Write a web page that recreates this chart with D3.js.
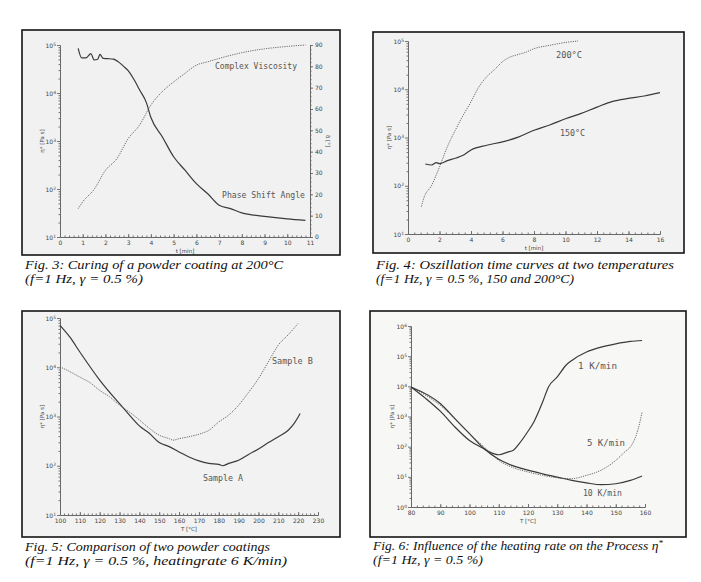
<!DOCTYPE html>
<html><head><meta charset="utf-8">
<script src="https://cdn.jsdelivr.net/npm/d3@7"></script>
<style>body{margin:0;background:#fff}svg{display:block}</style>
</head><body>
<svg id="c" width="701" height="582"></svg>
<script>
// ---------- Fig. 3 ----------
const fig3ViscTime = [0.8,1,1.5,2,2.5,3,3.5,4,4.5,5,5.5,6,6.5,7,8,9,10,10.8];
const fig3Visc = [39,54,98,245,427,1120,2140,5620,10700,17000,25700,38000,44700,52500,69200,83200,93300,100000];
const fig3PhaseTime = [0.8,0.95,1.15,1.36,1.5,1.65,1.76,1.9,2.1,2.35,2.64,2.8,3,3.3,3.5,3.8,4,4.5,5,5.5,6,6.5,7,7.5,8,9,10,10.8];
const fig3Phase = [88.4,84,84,86,83,83.2,85.6,83.7,83.6,83.4,81.5,80,78,73,69,63,56,47,37.6,31.3,25,20.3,14.9,13.3,11.3,9.7,8.5,7.8];
const fig3XTicks = [0,1,2,3,4,5,6,7,8,9,10,11];
const fig3YExp = [1,2,3,4,5];
const fig3RTicks = [0,10,20,30,40,50,60,70,80,90];
// ---------- Fig. 4 ----------
const fig4T200 = [0.85,1,1.5,2,2.5,3,3.5,4,4.5,5,5.5,6,6.5,7,7.5,8,9,10,10.8];
const fig4V200 = [37,55,102,245,646,1410,2880,5500,11200,18200,25700,37200,46800,52500,58900,69200,81300,93300,100000];
const fig4T150 = [1.1,1.5,1.8,2,2.5,3,3.5,4,5,6,7,8,9,10,11,12,13,14,15,16];
const fig4V150 = [282,269,302,288,331,372,427,550,692,813,1020,1410,1820,2450,3160,4270,5620,6460,7240,8510];
const fig4XTicks = [0,2,4,6,8,10,12,14,16];
const fig4YExp = [1,2,3,4,5];
// ---------- Fig. 5 ----------
const fig5TA = [100,105,110,120,130,135,140,145,150,155,160,165,170,175,180,182,185,190,195,200,205,210,215,218,221];
const fig5VA = [70800,40700,20400,5500,1820,1070,646,457,295,245,191,151,126,112,107,100,112,129,170,219,295,389,525,724,1150];
const fig5TB = [100,105,110,115,120,125,130,135,140,145,150,155,157,160,165,170,175,180,185,190,195,200,205,210,215,220];
const fig5VB = [10200,8130,6310,4900,3390,2510,1700,1230,851,575,417,355,331,355,389,437,525,776,1070,1700,3090,5890,12900,28200,45700,77600];
const fig5XTicks = [100,110,120,130,140,150,160,170,180,190,200,210,220,230];
const fig5YExp = [1,2,3,4,5];
// ---------- Fig. 6 ----------
const fig6T1 = [80,85,90,95,100,105,107,110,113,115,117,120,122,125,127,130,133,135,140,145,150,155,159];
const fig6V1 = [9550,4000,1500,450,160,85,66,54,66,76,126,324,661,3020,9550,20400,50100,72400,138000,200000,257000,309000,331000];
const fig6T5 = [80,90,100,105,110,115,120,125,130,135,140,145,150,153,155,157,158,159];
const fig6V5 = [9550,2340,269,98,35,20,14.5,11.2,9.3,8.7,11.2,16.6,35,66,98,240,513,1410];
const fig6T10 = [80,90,95,100,105,110,115,120,125,130,135,140,145,150,155,159];
const fig6V10 = [9550,2690,851,269,85,38,23,16.6,12.6,9.8,7.6,6.3,5.5,5.9,7.6,10.7];
const fig6XTicks = [80,90,100,110,120,130,140,150,160];
const fig6YExp = [0,1,2,3,4,5,6];

const svg = d3.select("#c");
const SOLID = "#3a3a3a", DOT = "#6a6a6a";
const zip = (a,b)=>a.map((v,i)=>[v,b[i]]);

function drawPanel(o){
  const g = svg.append("g");
  g.append("rect").attr("x",o.frame[0]).attr("y",o.frame[1])
    .attr("width",o.frame[2]-o.frame[0]).attr("height",o.frame[3]-o.frame[1])
    .attr("fill",o.bg).attr("stroke","#151515").attr("stroke-width",1.6);
  const x = d3.scaleLinear().domain(o.xDomain).range([o.left,o.right]);
  const y = d3.scaleLog().domain([Math.pow(10,o.yExp[0]),Math.pow(10,o.yExp[o.yExp.length-1])]).range([o.bottom,o.top]);
  const style = s => { s.selectAll("path,line").attr("stroke","#666").attr("stroke-width",0.9);
    s.selectAll("text").attr("fill","#444").style("font-family","DejaVu Sans").style("font-size","6px"); };
  g.append("g").attr("transform",`translate(0,${o.bottom})`)
    .call(d3.axisBottom(x).tickValues(o.xMinor).tickSize(-1.5).tickSizeOuter(0).tickFormat("")).call(style);
  g.append("g").attr("transform",`translate(0,${o.bottom})`)
    .call(d3.axisBottom(x).tickValues(o.xTicks).tickSize(-3).tickSizeOuter(0).tickPadding(4)).call(style);
  const minor=[];
  for(let e=o.yExp[0];e<o.yExp[o.yExp.length-1];e++) for(let k=2;k<10;k++) minor.push(k*Math.pow(10,e));
  g.append("g").attr("transform",`translate(${o.left},0)`)
    .call(d3.axisLeft(y).tickValues(minor).tickSize(1.5).tickSizeOuter(0).tickFormat("")).call(style);
  const yMaj = o.yExp.map(e=>Math.pow(10,e));
  const ya = g.append("g").attr("transform",`translate(${o.left},0)`)
    .call(d3.axisLeft(y).tickValues(yMaj).tickSize(3).tickSizeOuter(0).tickFormat("")).call(style);
  ya.selectAll(".tick").append("text").attr("x",-4).attr("dy","0.35em").attr("text-anchor","end")
    .attr("fill","#444").style("font-family","DejaVu Sans").style("font-size","6px")
    .each(function(d){ const t=d3.select(this); t.append("tspan").text("10");
      t.append("tspan").attr("dy","-0.45em").style("font-size","4.5px").text(Math.round(Math.log10(d))); });
  g.append("text").attr("transform",`translate(${o.yTitleX},${(o.top+o.bottom)/2}) rotate(-90)`)
    .attr("text-anchor","middle").attr("fill","#444").style("font-family","DejaVu Sans").style("font-size","5.5px")
    .text("η* [Pa s]");
  g.append("text").attr("x",(o.left+o.right)/2).attr("y",o.bottom+16).attr("text-anchor","middle")
    .attr("fill","#444").style("font-family","DejaVu Sans").style("font-size","5.5px").text(o.xTitle);
  const line = d3.line().x(d=>x(d[0])).y(d=>y(d[1])).curve(d3.curveMonotoneX);
  o.series.forEach(s=>{
    g.append("path").datum(s.data).attr("d",line).attr("fill","none")
      .attr("stroke",s.dot?DOT:SOLID).attr("stroke-width",s.dot?1:1.2)
      .attr("stroke-dasharray",s.dot?"1.2,1.1":null);
  });
  o.labels.forEach(l=>{
    g.append("text").attr("x",l[1]).attr("y",l[2]).attr("fill","#555")
      .style("font-family","DejaVu Sans Mono").style("font-size","8.5px").attr("textLength",l[3]).attr("lengthAdjust","spacingAndGlyphs").text(l[0]);
  });
  o.caption.forEach((c,i)=>{
    const t = g.append("text").attr("x",o.frame[0]+3).attr("y",o.capY[i]).attr("fill","#111")
      .style("font-family","Liberation Serif").style("font-style","italic").style("font-size","13px")
      .attr("textLength",c.w).attr("lengthAdjust","spacingAndGlyphs");
    t.append("tspan").text(c.t);
    if(c.sup){ t.append("tspan").attr("dy","-0.45em").style("font-size","9px").text(c.sup); }
  });
  return {g,x,y};
}
const range = (a,b,s)=>d3.range(a,b+s/2,s);

// Fig 3
const p3 = drawPanel({frame:[22,30,340,255],bg:"#f1f1f1",left:60,right:310,top:45,bottom:237,
  xDomain:[0,11],xTicks:fig3XTicks,xMinor:range(0,11,0.2),yExp:fig3YExp,yTitleX:44,xTitle:"t [min]",
  series:[{data:zip(fig3ViscTime,fig3Visc),dot:true}],
  labels:[["Complex Viscosity",215,69,82],["Phase Shift Angle",222,198,83]],
  caption:[{t:"Fig. 3: Curing of a powder coating at 200°C",w:258},{t:"(f=1 Hz, γ = 0.5 %)",w:118}],capY:[269,283]});
{
  const yR = d3.scaleLinear().domain([0,90]).range([237,45]);
  const st = s=>{s.selectAll("path,line").attr("stroke","#666").attr("stroke-width",0.9);
    s.selectAll("text").attr("fill","#444").style("font-family","DejaVu Sans").style("font-size","6px");};
  p3.g.append("g").attr("transform","translate(310,0)").call(d3.axisRight(yR).tickValues(range(0,90,2)).tickSize(1.5).tickSizeOuter(0).tickFormat("")).call(st);
  p3.g.append("g").attr("transform","translate(310,0)").call(d3.axisRight(yR).tickValues(fig3RTicks).tickSize(3).tickSizeOuter(0).tickPadding(2)).call(st);
  p3.g.append("text").attr("transform","translate(326,141) rotate(90)").attr("text-anchor","middle")
    .attr("fill","#444").style("font-family","DejaVu Sans").style("font-size","5.5px").text("δ [°]");
  const lineR = d3.line().x(d=>p3.x(d[0])).y(d=>yR(d[1])).curve(d3.curveMonotoneX);
  p3.g.append("path").datum(zip(fig3PhaseTime,fig3Phase)).attr("d",lineR).attr("fill","none").attr("stroke",SOLID).attr("stroke-width",1.2);
}
// Fig 4
drawPanel({frame:[373,32,684,253],bg:"#f2f2f2",left:408,right:660,top:41,bottom:234,
  xDomain:[0,16],xTicks:fig4XTicks,xMinor:range(0,16,0.4),yExp:fig4YExp,yTitleX:391,xTitle:"t [min]",
  series:[{data:zip(fig4T200,fig4V200),dot:true},{data:zip(fig4T150,fig4V150),dot:false}],
  labels:[["200°C",556,58,26],["150°C",560,136,25]],
  caption:[{t:"Fig. 4: Oszillation time curves at two temperatures",w:298},{t:"(f=1 Hz, γ = 0.5 %, 150 and 200°C)",w:198}],capY:[269,283]});
// Fig 5
drawPanel({frame:[22,311,340,537],bg:"#f2f2f2",left:60,right:318,top:318,bottom:515,
  xDomain:[100,230],xTicks:fig5XTicks,xMinor:range(100,230,2),yExp:fig5YExp,yTitleX:44,xTitle:"T [°C]",
  series:[{data:zip(fig5TA,fig5VA),dot:false},{data:zip(fig5TB,fig5VB),dot:true}],
  labels:[["Sample B",272,364,41],["Sample A",203,481,40]],
  caption:[{t:"Fig. 5: Comparison of two powder coatings",w:245},{t:"(f=1 Hz, γ = 0.5 %, heatingrate 6 K/min)",w:262}],capY:[551,565]});
// Fig 6
drawPanel({frame:[370,311,686,537],bg:"#f7f7f5",left:411,right:645,top:326,bottom:507,
  xDomain:[80,160],xTicks:fig6XTicks,xMinor:range(80,160,2),yExp:fig6YExp,yTitleX:394,xTitle:"T [°C]",
  series:[{data:zip(fig6T1,fig6V1),dot:false},{data:zip(fig6T5,fig6V5),dot:true},{data:zip(fig6T10,fig6V10),dot:false}],
  labels:[["1 K/min",578,369,39],["5 K/min",587,446,38],["10 K/min",583,496,39]],
  caption:[{t:"Fig. 6: Influence of the heating rate on the Process η",sup:"*",w:290},{t:"(f=1 Hz, γ = 0.5 %)",w:110}],capY:[550,564]});
</script>
</body></html>
